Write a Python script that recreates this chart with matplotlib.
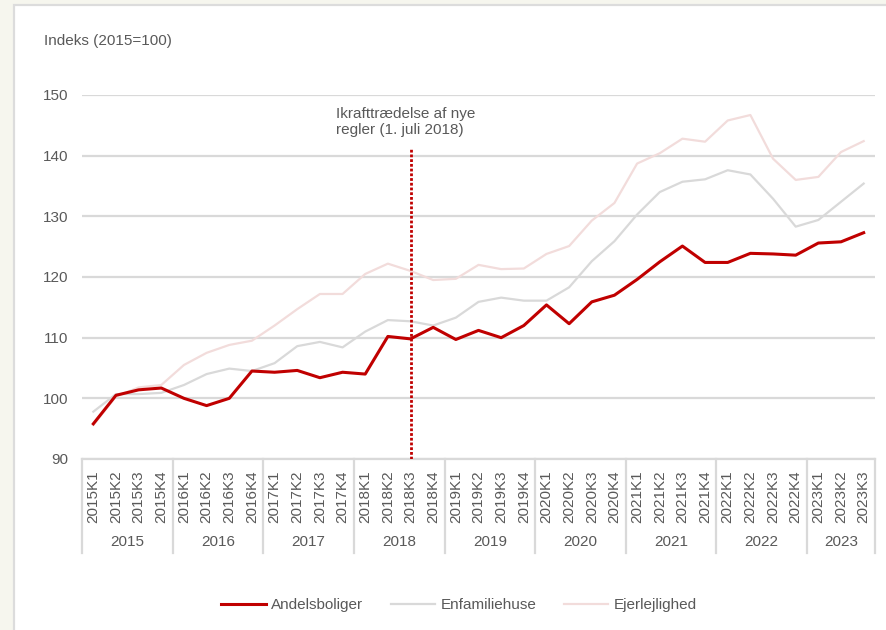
import numpy as np
import matplotlib.pyplot as plt
from matplotlib.patches import Rectangle
import matplotlib.transforms as mtransforms

# Prisindeks for boligtyper, kvartalsvis (2015=100)

years = ['2015', '2016', '2017', '2018', '2019', '2020', '2021', '2022', '2023']
quarters_per_year = [4, 4, 4, 4, 4, 4, 4, 4, 3]
quarters = [y + 'K' + str(q + 1) for y, n in zip(years, quarters_per_year) for q in range(n)]

andelsboliger = [95.8, 100.5, 101.4, 101.7,
                 100.0, 98.8, 100.0, 104.5,
                 104.3, 104.6, 103.4, 104.3,
                 104.0, 110.2, 109.8, 111.7,
                 109.7, 111.2, 110.0, 112.0,
                 115.4, 112.3, 115.9, 117.0,
                 119.6, 122.5, 125.1, 122.4,
                 122.4, 123.9, 123.8, 123.6,
                 125.6, 125.8, 127.3]

enfamiliehuse = [97.8, 100.7, 100.7, 100.9,
                 102.2, 104.0, 104.9, 104.5,
                 105.8, 108.6, 109.3, 108.4,
                 111.0, 112.9, 112.7, 112.0,
                 113.3, 115.9, 116.6, 116.1,
                 116.1, 118.3, 122.6, 125.9,
                 130.3, 134.0, 135.7, 136.1,
                 137.6, 136.9, 132.9, 128.3,
                 129.4, 132.4, 135.4]

ejerlejlighed = [95.6, 100.3, 101.8, 102.2,
                 105.5, 107.5, 108.8, 109.5,
                 112.0, 114.7, 117.2, 117.2,
                 120.5, 122.2, 121.0, 119.5,
                 119.7, 122.0, 121.3, 121.4,
                 123.8, 125.1, 129.3, 132.2,
                 138.7, 140.4, 142.8, 142.3,
                 145.8, 146.7, 139.5, 136.0,
                 136.5, 140.6, 142.4]

event_quarter = '2018K3'
event_text = 'Ikrafttrædelse af nye\nregler (1. juli 2018)'

txt = '#595959'
grid_col = '#d9d9d9'
plt.rcParams['font.family'] = ['Liberation Sans', 'DejaVu Sans']
plt.rcParams['font.size'] = 11

fig = plt.figure(figsize=[8.86, 6.3], dpi=100, facecolor='#f6f6ee')
# hvidt panel
fig.patches.append(Rectangle((14 / 886, -0.1), 1.0, 1 - 5 / 630 + 0.1, transform=fig.transFigure,
                             facecolor='white', edgecolor='#dcdcdc', linewidth=1.6, zorder=-1))

ax = fig.add_axes([82 / 886, 1 - 459 / 630, (875 - 82) / 886, (459 - 95) / 630])
ax.set_facecolor('none')

x = np.arange(len(quarters))
ax.plot(x, ejerlejlighed, color='#f2dcdb', lw=1.6, label='Ejerlejlighed', zorder=3)
ax.plot(x, enfamiliehuse, color='#d9d9d9', lw=1.6, label='Enfamiliehuse', zorder=4)
ax.plot(x, andelsboliger, color='#c00000', lw=2.2, label='Andelsboliger', zorder=5)

# lodret linje for nye regler
ev = quarters.index(event_quarter)
ax.vlines(ev, 90, 141.2, colors='#c00000', linestyles=(0, (1.0, 0.7)), lw=2.0, zorder=6)
ax.text(ev - 3.3, 145.6, event_text, color=txt, fontsize=11, ha='left', va='center', linespacing=1.15)

ax.set_xlim(-0.5, len(quarters) - 0.5)
ax.set_ylim(90, 150)
ax.set_yticks(range(90, 151, 10))
ax.yaxis.grid(True, color=grid_col, lw=1.6)
ax.set_axisbelow(True)
for s in ['top', 'right', 'left']:
    ax.spines[s].set_visible(False)
ax.spines['bottom'].set_color(grid_col)
ax.spines['bottom'].set_linewidth(1.6)

ax.set_xticks(x)
ax.set_xticklabels(quarters, rotation=90, va='top', ha='center')
ax.tick_params(axis='x', length=0, pad=8, colors=txt, labelsize=11)
ax.tick_params(axis='y', length=0, pad=10, colors=txt, labelsize=11)

# årsgrupper under kvartalerne
trans = mtransforms.blended_transform_factory(ax.transData, ax.transAxes)
start = -0.5
for y, n in zip(years, quarters_per_year):
    ax.plot([start, start], [0, -0.258], transform=trans, color=grid_col, lw=1.6, clip_on=False)
    ax.text(start + n / 2, -0.228, y, transform=trans, ha='center', va='center', color=txt, fontsize=11)
    start += n
ax.plot([start, start], [0, -0.258], transform=trans, color=grid_col, lw=1.6, clip_on=False)

fig.text(44 / 886, 1 - 41 / 630, 'Indeks (2015=100)', color=txt, fontsize=11, ha='left', va='center')

h, l = ax.get_legend_handles_labels()
order = [2, 1, 0]
fig.legend([h[i] for i in order], [l[i] for i in order], loc='center', bbox_to_anchor=(459 / 886, 1 - 605 / 630),
           ncol=3, frameon=False, handlelength=2.9, handletextpad=0.35, columnspacing=1.8,
           labelcolor=txt, fontsize=11)

plt.savefig('out.png', dpi=100, facecolor=fig.get_facecolor())
